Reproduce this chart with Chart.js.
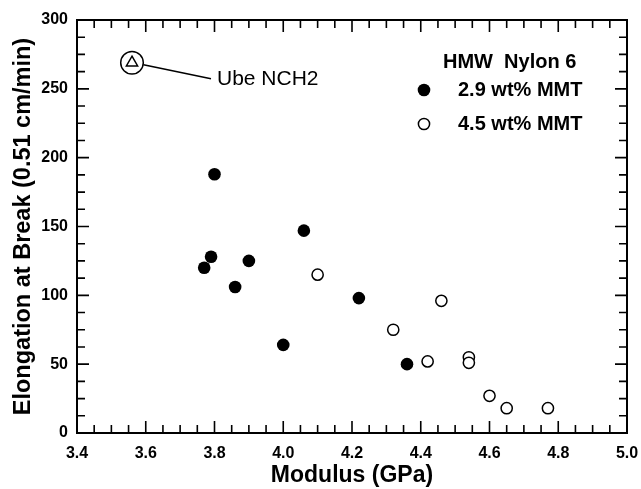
<!DOCTYPE html>
<html>
<head>
<meta charset="utf-8">
<script src="https://cdn.jsdelivr.net/npm/chart.js@4.4.1/dist/chart.umd.min.js"></script>
<style>
  body { margin: 0; background: #fff; }
  #wrap { width: 641px; height: 489px; }
</style>
</head>
<body>
<div id="wrap"><canvas id="chart" width="641" height="489"></canvas></div>
<script>
// modulus (GPa) vs elongation at break (%)
var filledX = [3.80, 4.06, 3.77, 3.79, 3.90, 3.86, 4.00, 4.22, 4.36];
var filledY = [188, 147, 120, 128, 125, 106, 64, 98, 50];
var openX = [4.10, 4.46, 4.32, 4.42, 4.54, 4.54, 4.60, 4.65, 4.77];
var openY = [115, 96, 75, 52, 55, 51, 27, 18, 18];
var nchX = [3.56];
var nchY = [269];
var xTicks = [3.4, 3.6, 3.8, 4.0, 4.2, 4.4, 4.6, 4.8, 5.0];
var yTicks = [0, 50, 100, 150, 200, 250, 300];

var FONT = "'Liberation Sans', Arial, sans-serif";

function pts(xs, ys) {
    var out = [];
    for (var i = 0; i < xs.length; i++) out.push({ x: xs[i], y: ys[i] });
    return out;
}

// frame with inward ticks, legend and the NCH2 callout
var decor = {
    id: 'decor',
    afterDraw: function (chart) {
        var ctx = chart.ctx;
        var a = chart.chartArea;
        var xs = chart.scales.x, ys = chart.scales.y;
        ctx.save();
        ctx.strokeStyle = '#000';
        ctx.lineWidth = 2;
        ctx.strokeRect(a.left, a.top, a.right - a.left, a.bottom - a.top);

        ctx.lineWidth = 1.6;
        ctx.beginPath();
        for (var i = 0; i <= 32; i++) {
            var px = xs.getPixelForValue(3.4 + i * 0.05);
            var len = (i % 4 == 0) ? 12 : 8;
            ctx.moveTo(px, a.bottom); ctx.lineTo(px, a.bottom - len);
            ctx.moveTo(px, a.top); ctx.lineTo(px, a.top + len);
        }
        for (var j = 0; j <= 24; j++) {
            var py = ys.getPixelForValue(j * 12.5);
            var len2 = (j % 4 == 0) ? 12 : 8;
            ctx.moveTo(a.left, py); ctx.lineTo(a.left + len2, py);
            ctx.moveTo(a.right, py); ctx.lineTo(a.right - len2, py);
        }
        ctx.stroke();

        // callout line and label
        var cx = xs.getPixelForValue(nchX[0]), cy = ys.getPixelForValue(nchY[0]);
        ctx.lineWidth = 1.5;
        ctx.beginPath();
        ctx.moveTo(cx + 11.5, cy + 2);
        ctx.lineTo(cx + 79, cy + 16);
        ctx.stroke();
        ctx.fillStyle = '#000';
        ctx.font = '21px ' + FONT;
        ctx.textBaseline = 'middle';
        ctx.textAlign = 'left';
        ctx.fillText('Ube NCH2', cx + 85, cy + 17);

        // legend
        var lx = a.right - 203, ly = a.top + 42;
        ctx.font = 'bold 20px ' + FONT;
        ctx.fillText('HMW  Nylon 6', lx + 19, ly);
        ctx.fillText('2.9 wt% MMT', lx + 34, ly + 28);
        ctx.fillText('4.5 wt% MMT', lx + 34, ly + 62);
        ctx.beginPath();
        ctx.arc(lx, ly + 28, 6.3, 0, Math.PI * 2);
        ctx.fill();
        ctx.beginPath();
        ctx.arc(lx, ly + 62, 5.6, 0, Math.PI * 2);
        ctx.lineWidth = 1.5;
        ctx.stroke();
        ctx.restore();
    }
};

new Chart(document.getElementById('chart'), {
    type: 'scatter',
    data: {
        datasets: [
            {
                label: '2.9 wt% MMT',
                data: pts(filledX, filledY),
                pointRadius: 6.3,
                pointBackgroundColor: '#000',
                pointBorderWidth: 0
            },
            {
                label: '4.5 wt% MMT',
                data: pts(openX, openY),
                pointRadius: 5.6,
                pointBackgroundColor: '#fff',
                pointBorderColor: '#000',
                pointBorderWidth: 1.5
            },
            {
                label: 'Ube NCH2',
                data: pts(nchX, nchY),
                pointStyle: 'triangle',
                pointRadius: 6.5,
                pointBackgroundColor: '#fff',
                pointBorderColor: '#000',
                pointBorderWidth: 1.5
            },
            {
                label: 'Ube NCH2 ring',
                data: pts(nchX, nchY),
                pointRadius: 11.3,
                pointBackgroundColor: 'rgba(0,0,0,0)',
                pointBorderColor: '#000',
                pointBorderWidth: 1.5
            }
        ]
    },
    options: {
        responsive: false,
        animation: false,
        events: [],
        layout: { padding: { top: 20, right: 14, left: 0, bottom: 0 } },
        plugins: { legend: { display: false }, tooltip: { enabled: false } },
        scales: {
            x: {
                type: 'linear',
                min: 3.4, max: 5.0,
                afterFit: function (s) {
                    s.height = 56;
                    s.paddingLeft = 0;
                    s.paddingRight = 0;
                },
                afterBuildTicks: function (s) { s.ticks = xTicks.map(function (v) { return { value: v }; }); },
                grid: { display: false, drawTicks: false },
                border: { display: false },
                ticks: {
                    color: '#000',
                    padding: 11,
                    maxRotation: 0,
                    font: { family: FONT, size: 16, weight: 'bold' },
                    callback: function (v) { return v.toFixed(1); }
                },
                title: {
                    display: true,
                    text: 'Modulus (GPa)',
                    color: '#000',
                    padding: { top: 0, bottom: 0 },
                    font: { family: FONT, size: 23, weight: 'bold' }
                }
            },
            y: {
                type: 'linear',
                min: 0, max: 300,
                afterFit: function (s) {
                    s.width = 77;
                    s.paddingTop = 0;
                    s.paddingBottom = 0;
                },
                afterBuildTicks: function (s) { s.ticks = yTicks.map(function (v) { return { value: v }; }); },
                grid: { display: false, drawTicks: false },
                border: { display: false },
                ticks: {
                    color: '#000',
                    padding: 9,
                    font: { family: FONT, size: 16, weight: 'bold' }
                },
                title: {
                    display: true,
                    text: 'Elongation at Break (0.51 cm/min)',
                    color: '#000',
                    padding: { top: 9, bottom: 0 },
                    font: { family: FONT, size: 23.5, weight: 'bold' }
                }
            }
        }
    },
    plugins: [decor]
});
</script>
</body>
</html>
